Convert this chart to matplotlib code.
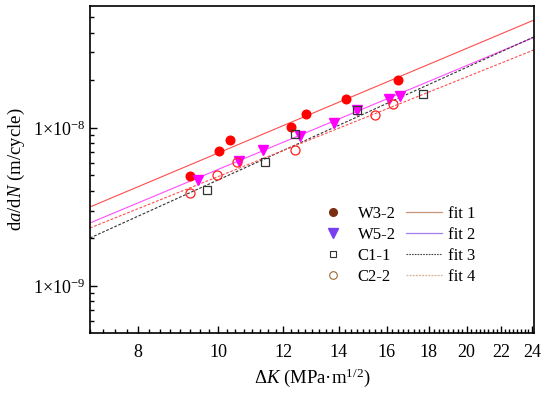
import numpy as np
import matplotlib
matplotlib.use("Agg")
import matplotlib.pyplot as plt
from matplotlib.ticker import FixedLocator, MultipleLocator, LogLocator, FuncFormatter, NullFormatter
from matplotlib.lines import Line2D

plt.rcParams['font.family'] = ['Liberation Serif', 'DejaVu Serif']
plt.rcParams['mathtext.fontset'] = 'custom'
plt.rcParams['mathtext.rm'] = 'Liberation Serif'
plt.rcParams['mathtext.it'] = 'Liberation Serif:italic'
plt.rcParams['mathtext.bf'] = 'Liberation Serif:bold'

# ---- data ----
w32_K = [9.25, 10.02, 10.33, 12.25, 12.78, 14.28, 16.5]
w32_v = [4.97e-9, 7.15e-9, 8.4e-9, 1.015e-8, 1.23e-8, 1.53e-8, 2.01e-8]

w52_K = [9.46, 10.6, 11.34, 12.57, 13.8, 14.73, 16.1, 16.6]
w52_v = [4.69e-9, 6.18e-9, 7.26e-9, 8.9e-9, 1.076e-8, 1.3e-8, 1.53e-8, 1.6e-8]

c11_K = [9.69, 11.4, 12.39, 14.73, 17.7]
c11_v = [4.06e-9, 6.1e-9, 9.16e-9, 1.3e-8, 1.64e-8]

c22_K = [9.25, 9.97, 10.55, 12.39, 15.48, 16.29]
c22_v = [3.88e-9, 5.05e-9, 6.1e-9, 7.26e-9, 1.21e-8, 1.42e-8]

# Paris-law fits  da/dN = C * dK^m
fit_C = [4.37e-11, 3.57e-11, 2.01e-11, 3.94e-11]
fit_m = [2.20, 2.184, 2.367, 2.096]
fit_labels = ['fit 1', 'fit 2', 'fit 3', 'fit 4']
series_labels = ['W3-2', 'W5-2', 'C1-1', 'C2-2']

x_ticks = [8, 10, 12, 14, 16, 18, 20, 22, 24]
y_ticks = [1e-9, 1e-8]
x_lim = (7.0, 24.13)
y_lim = (5.04e-10, 5.9e-8)

fig = plt.figure(figsize=(5.5, 3.95), dpi=100)
ax = fig.add_axes([90/550, 1-333/395, 444/550, 327/395])
ax.set_xscale('log')
ax.set_yscale('log')

Kf = np.geomspace(x_lim[0], x_lim[1], 200)
fit_colors = ['#ff4d4d', '#ff4dff', '#333333', '#ff4d4d']
fit_styles = ['-', '-', (0, (2.5, 1.5)), (0, (2.5, 1.5))]
for C, m, c, ls in zip(fit_C, fit_m, fit_colors, fit_styles):
    ax.plot(Kf, C * Kf**m, color=c, lw=0.8, ls=ls, zorder=2)

ax.plot(w32_K, w32_v, 'o', ms=6.2, color='#ff0000', mec='#ff0000', zorder=3)
ax.plot(w52_K, w52_v, 'v', ms=7, color='#ff00ff', mec='#ff00ff', zorder=3)
ax.plot(c11_K, c11_v, 's', ms=5.5, mfc='none', mec='#333333', mew=0.9, zorder=3)
ax.plot(c22_K, c22_v, 'o', ms=6.5, mfc='none', mec='#ff2020', mew=0.9, zorder=3)

ax.set_xlim(*x_lim)
ax.set_ylim(*y_lim)

ax.xaxis.set_major_locator(FixedLocator(x_ticks))
ax.xaxis.set_major_formatter(FuncFormatter(lambda v, p: f'{v:g}'))
ax.xaxis.set_minor_locator(MultipleLocator(0.25))
ax.xaxis.set_minor_formatter(NullFormatter())

ax.yaxis.set_major_locator(FixedLocator(y_ticks))
ax.yaxis.set_minor_locator(LogLocator(base=10, subs=np.arange(2, 10), numticks=10))
ax.yaxis.set_minor_formatter(NullFormatter())
def yfmt(v, p):
    e = int(round(np.log10(v)))
    return '1×10$^{\u2212%d}$' % (-e)
ax.yaxis.set_major_formatter(FuncFormatter(yfmt))

ax.tick_params(which='both', direction='in', top=False, right=False, labelsize=13, width=1.0)
ax.tick_params(which='major', length=5)
ax.tick_params(which='minor', length=3)
ax.tick_params(axis='x', pad=8)
for s in ax.spines.values():
    s.set_linewidth(1.2)

ax.set_xlabel('Δ$K$ (MPa·m$^{1/2}$)', fontsize=13.5, labelpad=4)
ax.set_ylabel('d$a$/d$N$ (m/cycle)', fontsize=13.5, labelpad=4)

# legend as it appears in the picture
mk_handles = [
    Line2D([], [], ls='none', marker='o', ms=5.5, color='#7a2e12', mec='#7a2e12'),
    Line2D([], [], ls='none', marker='v', ms=6.5, color='#7b3ff2', mec='#7b3ff2'),
    Line2D([], [], ls='none', marker='s', ms=4.5, mfc='none', mec='#333333', mew=0.8),
    Line2D([], [], ls='none', marker='o', ms=5.5, mfc='none', mec='#9c6b30', mew=0.8),
]
ln_handles = [
    Line2D([], [], color='#c8957a', lw=0.9),
    Line2D([], [], color='#a57ef0', lw=0.9),
    Line2D([], [], color='#444444', lw=0.8, ls=(0, (1.5, 1))),
    Line2D([], [], color='#d8b090', lw=0.9, ls=(0, (1.5, 1))),
]
ax.legend(mk_handles + ln_handles, series_labels + fit_labels, ncol=2,
          loc='upper left', bbox_to_anchor=(0.507, 0.388), frameon=False,
          fontsize=12, handlelength=2.2, handletextpad=0.35, columnspacing=0.6,
          labelspacing=0.3, borderpad=0, borderaxespad=0)

fig.savefig('out.png', dpi=100)
